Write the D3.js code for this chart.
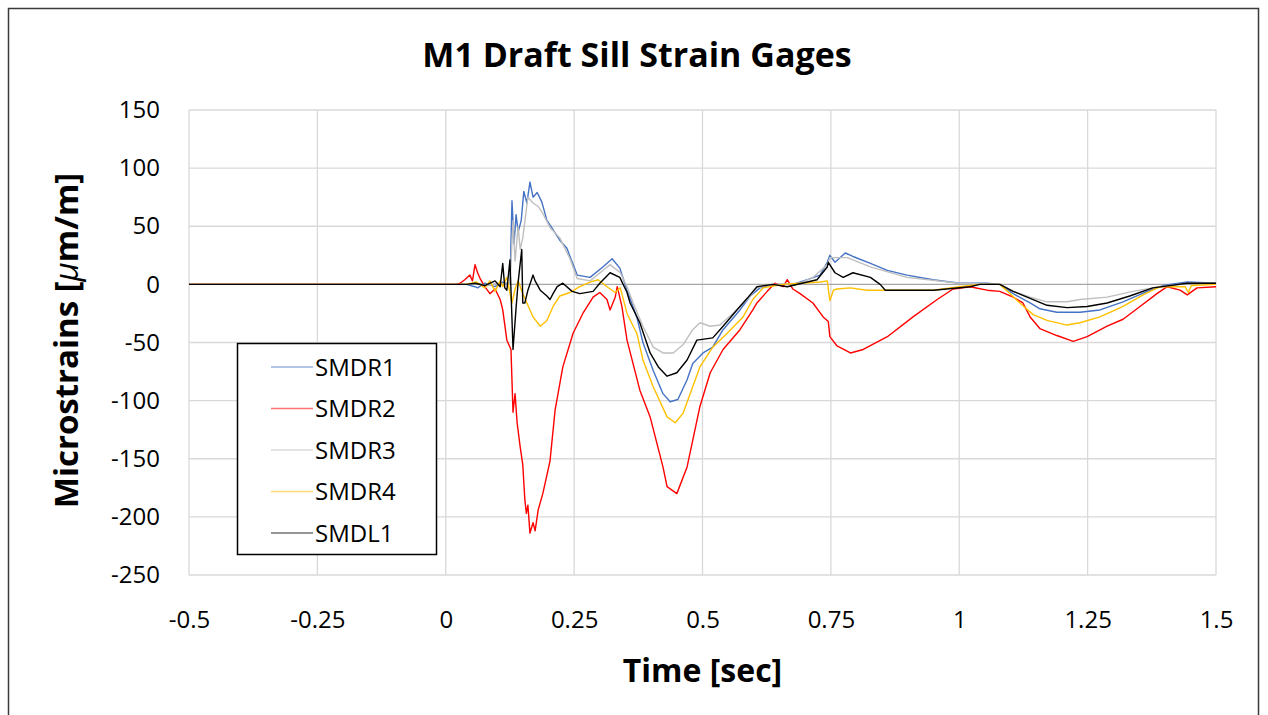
<!DOCTYPE html>
<html>
<head>
<meta charset="utf-8">
<script src="https://cdn.jsdelivr.net/npm/d3@7/dist/d3.min.js"></script>
<style>
  body { margin: 0; background: #fff; }
  text { font-family: "Open Sans", sans-serif; fill: #000; }
</style>
</head>
<body>
<div id="chart"></div>
<script>
// series as [time (s), microstrain] pairs
const seriesNames = ["SMDR1", "SMDR2", "SMDR3", "SMDR4", "SMDL1"];
const seriesColors = ["#4472c4", "#ff0000", "#bfbfbf", "#ffc000", "#000000"];

const smdr1 = [[-0.5,0],[0.04,0],[0.057,-2],[0.062,-3],[0.076,1],[0.096,-2],[0.111,2],[0.125,0],[0.129,72],
  [0.133,35],[0.137,60],[0.141,45],[0.147,55],[0.152,80],[0.158,70],[0.164,88],[0.170,75],[0.178,79],[0.187,71],
  [0.197,55],[0.209,47],[0.222,38],[0.236,31],[0.242,24],[0.256,8],[0.281,6],[0.306,15],[0.324,22],[0.339,14],
  [0.353,-5],[0.372,-28],[0.384,-50],[0.404,-74],[0.423,-94],[0.437,-101],[0.452,-99],[0.470,-82],[0.481,-68],
  [0.501,-59],[0.520,-54],[0.540,-39],[0.573,-22],[0.593,-10],[0.612,-3],[0.637,0],[0.676,0],[0.710,5],[0.729,8],
  [0.743,19],[0.748,25],[0.758,19],[0.778,27],[0.793,24],[0.827,18],[0.860,12],[0.898,8],[0.949,4],[1.001,1],
  [1.054,1],[1.079,0],[1.105,-8],[1.138,-16],[1.157,-21],[1.190,-24],[1.235,-24],[1.274,-22],[1.319,-15],
  [1.366,-6],[1.397,-1],[1.444,2],[1.5,1]];

const smdr2 = [[-0.5,0],[0.02,0],[0.028,1],[0.037,4],[0.047,8],[0.052,3],[0.057,17],[0.062,10],[0.067,5],
  [0.076,-2],[0.086,-8],[0.096,-4],[0.106,-13],[0.111,-22],[0.119,-48],[0.127,-56],[0.131,-110],[0.135,-94],
  [0.139,-119],[0.145,-140],[0.150,-155],[0.154,-185],[0.157,-197],[0.160,-190],[0.164,-214],[0.170,-205],
  [0.174,-212],[0.180,-194],[0.189,-180],[0.203,-152],[0.213,-108],[0.228,-71],[0.248,-42],[0.267,-25],
  [0.287,-11],[0.300,-7],[0.314,-13],[0.320,-22],[0.330,-11],[0.334,-2],[0.343,-19],[0.353,-48],[0.378,-91],
  [0.398,-114],[0.423,-157],[0.431,-174],[0.450,-180],[0.470,-157],[0.495,-105],[0.515,-76],[0.540,-56],
  [0.573,-39],[0.598,-22],[0.606,-16],[0.626,-6],[0.641,1],[0.657,-2],[0.665,4],[0.676,-4],[0.690,-8],
  [0.715,-16],[0.735,-28],[0.745,-32],[0.748,-45],[0.762,-53],[0.788,-59],[0.813,-56],[0.860,-45],[0.910,-28],
  [0.957,-13],[0.988,-4],[1.021,-2],[1.054,-5],[1.079,-6],[1.105,-11],[1.124,-16],[1.138,-28],[1.157,-38],
  [1.190,-44],[1.222,-49],[1.249,-45],[1.288,-36],[1.319,-30],[1.352,-19],[1.385,-8],[1.405,-2],[1.430,-5],
  [1.444,-9],[1.463,-3],[1.5,-2]];

const smdr3 = [[-0.5,0],[0.04,0],[0.06,1],[0.08,-1],[0.10,1],[0.125,0],[0.131,55],[0.135,20],[0.141,50],
  [0.145,30],[0.150,40],[0.160,75],[0.170,70],[0.180,67],[0.189,61],[0.203,49],[0.222,40],[0.242,22],[0.256,5],
  [0.281,3],[0.306,12],[0.320,17],[0.340,10],[0.353,-2],[0.365,-16],[0.384,-36],[0.404,-54],[0.423,-59],
  [0.443,-59],[0.462,-52],[0.481,-39],[0.495,-33],[0.515,-36],[0.534,-35],[0.559,-25],[0.587,-13],[0.606,-3],
  [0.637,0],[0.69,1],[0.715,6],[0.743,17],[0.748,23],[0.782,23],[0.827,15],[0.898,6],[1.0,1],[1.079,0],
  [1.105,-6],[1.138,-11],[1.171,-15],[1.210,-15],[1.235,-13],[1.288,-11],[1.338,-6],[1.391,-2],[1.444,1],[1.5,1]];

const smdr4 = [[-0.5,0],[0.04,0],[0.06,2],[0.076,-3],[0.086,3],[0.096,-6],[0.106,3],[0.111,-2],[0.119,6],
  [0.129,-16],[0.135,-4],[0.141,3],[0.150,-8],[0.160,-18],[0.170,-28],[0.184,-36],[0.197,-31],[0.209,-19],
  [0.222,-10],[0.242,-7],[0.261,-2],[0.281,2],[0.297,4],[0.314,-2],[0.330,-7],[0.340,-3],[0.353,-25],
  [0.365,-36],[0.372,-42],[0.384,-65],[0.404,-88],[0.431,-114],[0.447,-119],[0.462,-111],[0.481,-88],
  [0.495,-71],[0.520,-54],[0.548,-42],[0.579,-28],[0.598,-13],[0.618,-3],[0.657,0],[0.690,1],[0.729,2],
  [0.743,3],[0.748,-14],[0.755,-5],[0.762,-4],[0.788,-3],[0.82,-5],[0.86,-5],[0.95,-5],[1.0,-2],[1.04,0],
  [1.079,0],[1.099,-8],[1.118,-16],[1.144,-26],[1.171,-31],[1.210,-35],[1.235,-33],[1.274,-28],[1.319,-19],
  [1.358,-9],[1.391,-2],[1.44,-2],[1.446,-7],[1.452,-1],[1.5,0]];

const smdl1 = [[-0.5,0],[0.04,0],[0.057,1],[0.076,-1],[0.096,3],[0.106,-2],[0.111,18],[0.115,-3],[0.119,-5],
  [0.125,21],[0.131,-56],[0.137,-20],[0.141,2],[0.148,30],[0.150,-16],[0.154,-16],[0.160,-5],[0.170,8],
  [0.174,3],[0.184,-5],[0.197,-10],[0.203,-13],[0.209,-8],[0.217,-2],[0.228,1],[0.246,-6],[0.261,-8],
  [0.287,-6],[0.300,1],[0.320,10],[0.339,6],[0.353,-7],[0.359,-16],[0.378,-33],[0.398,-59],[0.414,-71],
  [0.431,-79],[0.450,-76],[0.470,-65],[0.489,-48],[0.520,-46],[0.540,-36],[0.567,-22],[0.587,-12],[0.606,-2],
  [0.637,0],[0.665,-2],[0.704,2],[0.723,4],[0.743,15],[0.745,19],[0.758,10],[0.774,6],[0.793,10],[0.827,6],
  [0.846,0],[0.856,-5],[0.95,-5],[1.021,-2],[1.040,0],[1.079,0],[1.105,-6],[1.138,-12],[1.171,-18],
  [1.210,-20],[1.249,-19],[1.288,-16],[1.332,-10],[1.377,-3],[1.444,1],[1.5,1]];

const xTicks = [-0.5, -0.25, 0, 0.25, 0.5, 0.75, 1, 1.25, 1.5];
const yTicks = [150, 100, 50, 0, -50, -100, -150, -200, -250];

const allSeries = [smdr1, smdr2, smdr3, smdr4, smdl1];

const width = 1268, height = 715;
const margin = { top: 110, right: 52, bottom: 140, left: 189 };
const innerW = width - margin.left - margin.right;
const innerH = height - margin.top - margin.bottom;

const svg = d3.select("#chart")
  .append("svg")
  .attr("width", width)
  .attr("height", height);

// outer frame
svg.append("rect")
  .attr("x", 8.5).attr("y", 8.5)
  .attr("width", 1250).attr("height", 720)
  .attr("fill", "none")
  .attr("stroke", "#3a3a3a")
  .attr("stroke-width", 1.5);

svg.append("text")
  .attr("x", 637).attr("y", 67)
  .attr("text-anchor", "middle")
  .style("font-size", "34px")
  .style("font-weight", "bold")
  .text("M1 Draft Sill Strain Gages");

const g = svg.append("g")
  .attr("transform", `translate(${margin.left},${margin.top})`);

const x = d3.scaleLinear().domain([-0.5, 1.5]).range([0, innerW]);
const y = d3.scaleLinear().domain([-250, 150]).range([innerH, 0]);

// gridlines
g.append("g")
  .selectAll("line.vgrid")
  .data(xTicks)
  .join("line")
  .attr("class", "vgrid")
  .attr("x1", d => x(d)).attr("x2", d => x(d))
  .attr("y1", 0).attr("y2", innerH)
  .attr("stroke", "#d9d9d9")
  .attr("stroke-width", 1.3);

g.append("g")
  .selectAll("line.hgrid")
  .data(yTicks)
  .join("line")
  .attr("class", "hgrid")
  .attr("x1", 0).attr("x2", innerW)
  .attr("y1", d => y(d)).attr("y2", d => y(d))
  .attr("stroke", d => d === 0 ? "#a6a6a6" : "#d9d9d9")
  .attr("stroke-width", 1.3);

// tick labels
const xAxis = g.append("g")
  .attr("transform", `translate(0,${innerH})`)
  .call(d3.axisBottom(x).tickValues(xTicks).tickFormat(d => String(d)).tickSize(0).tickPadding(36));
xAxis.select(".domain").remove();
xAxis.selectAll("text").style("font-size", "24px").style("font-family", '"Open Sans", sans-serif');

const yAxis = g.append("g")
  .call(d3.axisLeft(y).tickValues(yTicks).tickFormat(d => String(d)).tickSize(0).tickPadding(29));
yAxis.select(".domain").remove();
yAxis.selectAll("text").style("font-size", "24px").style("font-family", '"Open Sans", sans-serif');

// axis titles
svg.append("text")
  .attr("x", margin.left + innerW / 2).attr("y", 682)
  .attr("text-anchor", "middle")
  .style("font-size", "32px")
  .style("font-weight", "bold")
  .text("Time [sec]");

const yTitle = svg.append("text")
  .attr("transform", `translate(78,${margin.top + innerH / 2 - 2}) rotate(-90)`)
  .attr("text-anchor", "middle")
  .style("font-size", "33px")
  .style("font-weight", "bold");
yTitle.append("tspan").text("Microstrains [");
yTitle.append("tspan").style("font-style", "italic").style("font-weight", "normal").text("\u03bc");
yTitle.append("tspan").text("m/m]");

// lines
svg.append("clipPath").attr("id", "plot-clip")
  .append("rect").attr("width", innerW).attr("height", innerH);

const line = d3.line()
  .x(d => x(d[0]))
  .y(d => y(d[1]));

g.append("g")
  .attr("clip-path", "url(#plot-clip)")
  .selectAll("path.series")
  .data(allSeries)
  .join("path")
  .attr("class", "series")
  .attr("d", line)
  .attr("fill", "none")
  .attr("stroke", (d, i) => seriesColors[i])
  .attr("stroke-width", 1.4)
  .attr("stroke-linejoin", "round");

// legend
const legend = svg.append("g").attr("transform", "translate(237,343)");
legend.append("rect")
  .attr("x", 0.5).attr("y", 0.5)
  .attr("width", 199).attr("height", 211)
  .attr("fill", "#fff")
  .attr("stroke", "#000")
  .attr("stroke-width", 1.5);

const items = legend.selectAll("g.item")
  .data(seriesNames)
  .join("g")
  .attr("class", "item")
  .attr("transform", (d, i) => `translate(0,${24 + i * 41.5})`);

items.append("line")
  .attr("x1", 34).attr("x2", 76)
  .attr("stroke", (d, i) => seriesColors[i])
  .attr("stroke-opacity", 0.55)
  .attr("stroke-width", 1.3);

items.append("text")
  .attr("x", 78)
  .attr("dy", "0.36em")
  .style("font-size", "24px")
  .text(d => d);
</script>
</body>
</html>
